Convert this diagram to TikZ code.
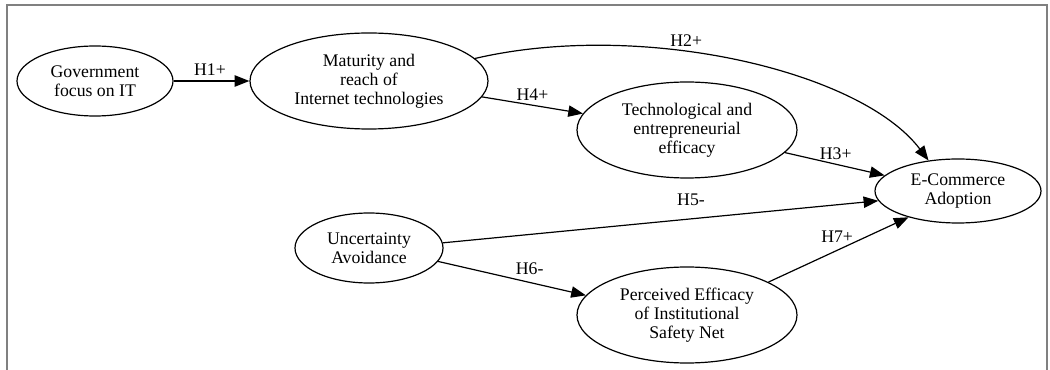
\documentclass[tikz,border=0pt]{standalone}
\usepackage{fontspec}
\setmainfont{Liberation Serif}
\usetikzlibrary{shapes.geometric, arrows.meta}
\tikzset{
  construct/.style={ellipse, draw, line width=0.9pt, inner sep=0pt,
                    align=center, font=\fontsize{13.3}{14.4}\selectfont},
  hyp/.style={-{Triangle[length=11pt, width=8.5pt]}, line width=0.9pt},
  hlabel/.style={above, font=\fontsize{13.3}{14.4}\selectfont},
}
\begin{document}
\begin{tikzpicture}[x=0.75pt, y=-0.75pt]
  \useasboundingbox (0,0) rectangle (1050,370);
  % frame
  \draw[gray, line width=1.5pt] (6.5,370) -- (6.5,5) -- (1047,5) -- (1047,370);
  % constructs
  \node[construct, minimum width=117pt, minimum height=52.5pt] (gov) at (95,81) {Government\\focus on IT};
  \node[construct, minimum width=178.5pt, minimum height=72pt] (mat) at (369,81) {Maturity and\\reach of\\Internet technologies};
  \node[construct, minimum width=165pt, minimum height=72pt] (tech) at (687,130) {Technological and\\entrepreneurial\\efficacy};
  \node[construct, minimum width=124.5pt, minimum height=48pt] (ecom) at (958,191) {E-Commerce\\Adoption};
  \node[construct, minimum width=111pt, minimum height=52.5pt] (unc) at (369,248) {Uncertainty\\Avoidance};
  \node[construct, minimum width=165pt, minimum height=72pt] (perc) at (687,315) {Perceived Efficacy\\of Institutional\\Safety Net};
  % hypotheses
  \draw[hyp] (gov.east) -- (mat.west) node[hlabel, pos=0.48] {H1+};
  \draw[hyp] (mat.12) .. controls (640,20) and (860,70) .. (ecom.134) node[hlabel, pos=0.4] {H2+};
  \draw[hyp] (mat.-8.5) -- (tech.171) node[hlabel, pos=0.5] {H4+};
  \draw[hyp] (tech.-13) -- (ecom.168) node[hlabel, pos=0.51] {H3+};
  \draw[hyp] (unc.4) -- (ecom.187) node[hlabel, pos=0.57, yshift=6pt] {H5-};
  \draw[hyp] (unc.-11.5) -- (perc.169) node[hlabel, pos=0.62, yshift=2pt] {H6-};
  \draw[hyp] (perc.22) -- (ecom.208) node[hlabel, pos=0.49, yshift=2pt] {H7+};
\end{tikzpicture}
\end{document}
